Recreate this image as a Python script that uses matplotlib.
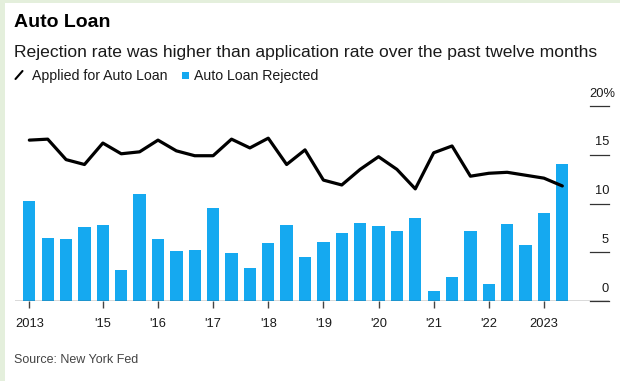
import matplotlib
matplotlib.use("Agg")
from matplotlib import pyplot as plt
from matplotlib.patches import Rectangle
import numpy as np

# survey waves, Oct 2013 .. Jun 2023 (three per year)
rejected = [10.3, 6.5, 6.4, 7.6, 7.8, 3.2, 11.0, 6.4, 5.1, 5.2,
            9.5, 4.9, 3.4, 5.9, 7.8, 4.5, 6.1, 7.0, 8.0, 7.7,
            7.2, 8.5, 1.0, 2.5, 7.2, 1.7, 7.9, 5.7, 9.0, 14.1]
applied = [16.5, 16.6, 14.5, 14.0, 16.2, 15.1, 15.3, 16.5, 15.4, 14.9,
           14.9, 16.6, 15.7, 16.7, 14.0, 15.5, 12.4, 11.9, 13.5, 14.8,
           13.5, 11.5, 15.2, 15.9, 12.8, 13.1, 13.2, 12.9, 12.6, 11.8]
tick_pos = [0, 4, 7, 10, 13, 16, 19, 22, 25, 28]
tick_labels = ["2013", "'15", "'16", "'17", "'18", "'19", "'20", "'21", "'22", "2023"]
y_ticks = [0, 5, 10, 15, 20]

BLUE = "#15a9f0"
TXT = "#1a1a1a"
plt.rcParams["font.family"] = "Liberation Sans"

W, H = 620, 381
fig = plt.figure(figsize=(W / 100, H / 100), dpi=100)
fig.patch.set_facecolor("white")


def fx(px):
    return px / W


def fy(px):
    # pixel rows counted from the top
    return 1 - px / H


# pale green frame on the left and top
frame = "#e4efdc"
fig.add_artist(Rectangle((0, 0), fx(5), 1, transform=fig.transFigure, color=frame, lw=0))
fig.add_artist(Rectangle((0, fy(3)), 1, 3 / H, transform=fig.transFigure, color=frame, lw=0))

ax = fig.add_axes([fx(15), fy(301), 594 / W, 195 / H])
x = np.arange(len(rejected))
ax.bar(x, rejected, width=0.67, color=BLUE, zorder=2)
ax.plot(x, applied, color="black", lw=2.3, solid_joinstyle="round", solid_capstyle="round", zorder=3)

ax.set_xlim(-0.78, 31.54)
ax.set_ylim(0, 20)
for s in ax.spines.values():
    s.set_visible(False)
ax.axhline(0, color="#444444", lw=1.0, zorder=4)
ax.set_yticks([])
ax.set_xticks(tick_pos)
ax.set_xticklabels(tick_labels, fontsize=9.3, color=TXT)
ax.tick_params(axis="x", length=5, width=1, color="#444444", pad=7)

# right-hand value scale: short rule with label above
yt = ax.get_yaxis_transform()
for v in y_ticks:
    ax.plot([0.968, 1.0], [v, v], transform=yt, color="#333333", lw=0.9, clip_on=False)
    if v == 20:
        ax.text(0.9665, v + 0.95, f"{v}%", transform=yt, ha="left", va="baseline",
                fontsize=9.3, color=TXT, clip_on=False)
    else:
        ax.text(1.0, v + 0.95, str(v), transform=yt, ha="right", va="baseline",
                fontsize=9.3, color=TXT)

fig.text(fx(14), fy(26.7), "Auto Loan", fontsize=14, fontweight="bold", va="baseline", color="black")
fig.text(fx(14), fy(56.7), "Rejection rate was higher than application rate over the past twelve months",
         fontsize=12.6, va="baseline", color=TXT)

# legend row
fig.add_artist(plt.Line2D([fx(15.5), fx(22.5)], [fy(79), fy(71)], color="black", lw=1.5,
                          solid_capstyle="round"))
fig.text(fx(32), fy(80), "Applied for Auto Loan", fontsize=10.2, va="baseline", color=TXT)
fig.add_artist(Rectangle((fx(181.7), fy(79)), 6.8 / W, 7.5 / H, transform=fig.transFigure, color=BLUE, lw=0))
fig.text(fx(194), fy(80), "Auto Loan Rejected", fontsize=10.2, va="baseline", color=TXT)

fig.text(fx(14), fy(363), "Source: New York Fed", fontsize=9, va="baseline", color="#444444")

fig.savefig("out.png", dpi=100, facecolor=fig.get_facecolor())
